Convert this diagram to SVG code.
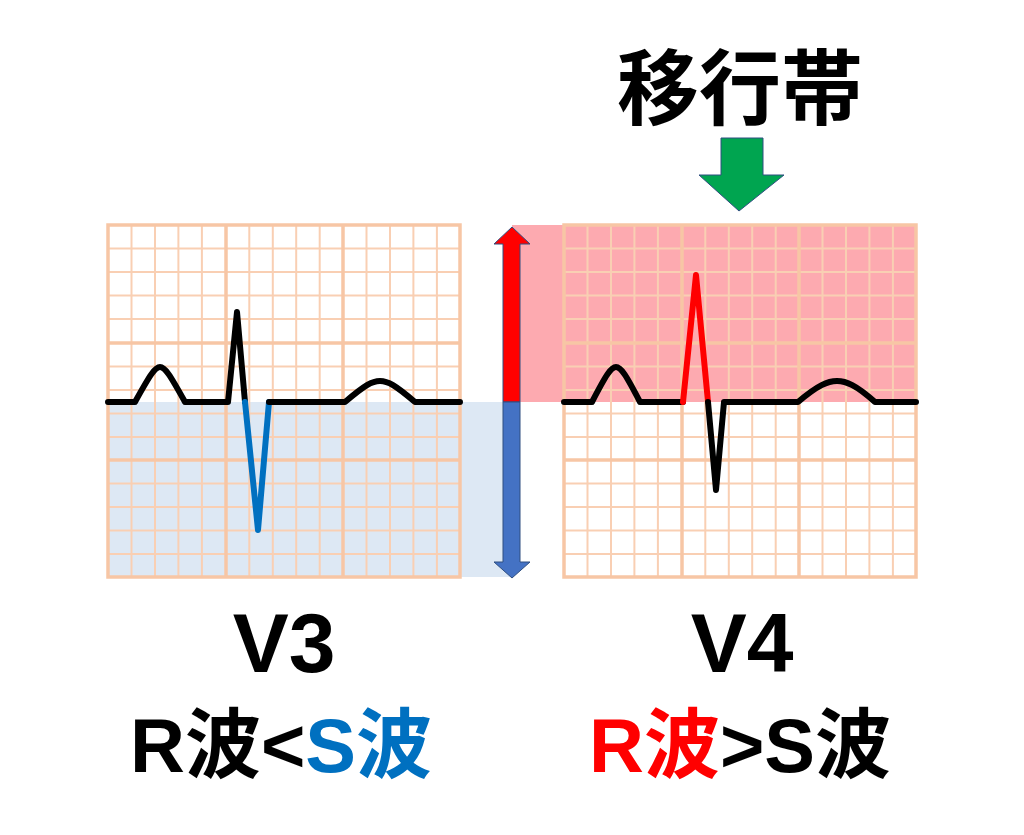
<svg xmlns="http://www.w3.org/2000/svg" width="1024" height="835" viewBox="0 0 1024 835">
<defs>
<style>
.t{font-family:"Liberation Sans","Noto Sans CJK JP",sans-serif;font-weight:bold;text-anchor:middle}
.mn{stroke:#f9cfb3;stroke-width:2;fill:none}
.mj{stroke:#f7c6a5;stroke-width:3.5;fill:none}
.w{fill:none;stroke-width:6;stroke-linejoin:round;stroke-linecap:round}
</style>
<path id="minor" class="mn" d="M131.5 225V577M155 225V577M178.4 225V577M201.9 225V577M249.3 225V577M272.8 225V577M296.2 225V577M319.7 225V577M366.5 225V577M390 225V577M413.4 225V577M436.9 225V577M108 248.5H460M108 272H460M108 295.4H460M108 318.9H460M108 366.5H460M108 390H460M108 413.4H460M108 436.9H460M108 483.5H460M108 507H460M108 530.4H460M108 553.9H460"/>
</defs>
<rect width="1024" height="835" fill="#fff"/>
<rect x="108" y="402" width="404" height="175" fill="#dde8f4"/>
<rect x="512" y="225" width="404" height="177" fill="#fdaab0"/>
<g id="v3grid">
<use href="#minor"/>
<path d="M108 225H460V577H108ZM226 225V577M343 225V577M108 343H460M108 460H460" class="mj"/>
</g>
<g id="v4grid">
<use href="#minor" x="456"/>
<path d="M564 225H916V577H564ZM682 225V577M799 225V577M564 343H916M564 460H916" class="mj"/>
</g>
<g id="arrow">
<path d="M503 402V244H494L512 227L530 244H520V402Z" fill="#ff0000" stroke="#2f4f80" stroke-width="1"/>
<path d="M503 402V562H494L512 578L530 562H520V402Z" fill="#4472c4" stroke="#2f4f80" stroke-width="1"/>
</g>
<g id="v3wave">
<path class="w" stroke="#000" d="M108 402H135C150 375 155 367 160 367C165 367 170 375 185 402H228L237 312L245 402"/>
<path class="w" stroke="#0070c0" d="M245 402L258 530L269 402"/>
<path class="w" stroke="#000" d="M269 402H345C365 385 372 381 380 381C388 381 395 385 415 402H460"/>
</g>
<g id="v4wave">
<path class="w" stroke="#000" d="M564 402H592C606 375 611 367 616 367C621 367 626 375 640 402H683"/>
<path class="w" stroke="#ff0000" d="M683 402L696 275L708 402"/>
<path class="w" stroke="#000" d="M708 402L716 490L724 402H798C818 385 828 381 837 381C846 381 856 385 875 402H916"/>
</g>
<g id="green">
<path d="M721 138H763V175H784L739 211L699 175H721Z" fill="#00a550" stroke="#2f4f80" stroke-width="1"/>
</g>
<text class="t" x="740" y="118" font-size="82">移行帯</text>
<text class="t" x="284" y="672" font-size="84">V3</text>
<text class="t" x="742" y="672" font-size="84">V4</text>
<text class="t" x="281" y="772" font-size="76">R波&lt;<tspan fill="#0070c0">S波</tspan></text>
<text class="t" x="740" y="772" font-size="76"><tspan fill="#ff0000">R波</tspan>&gt;S波</text>
</svg>
